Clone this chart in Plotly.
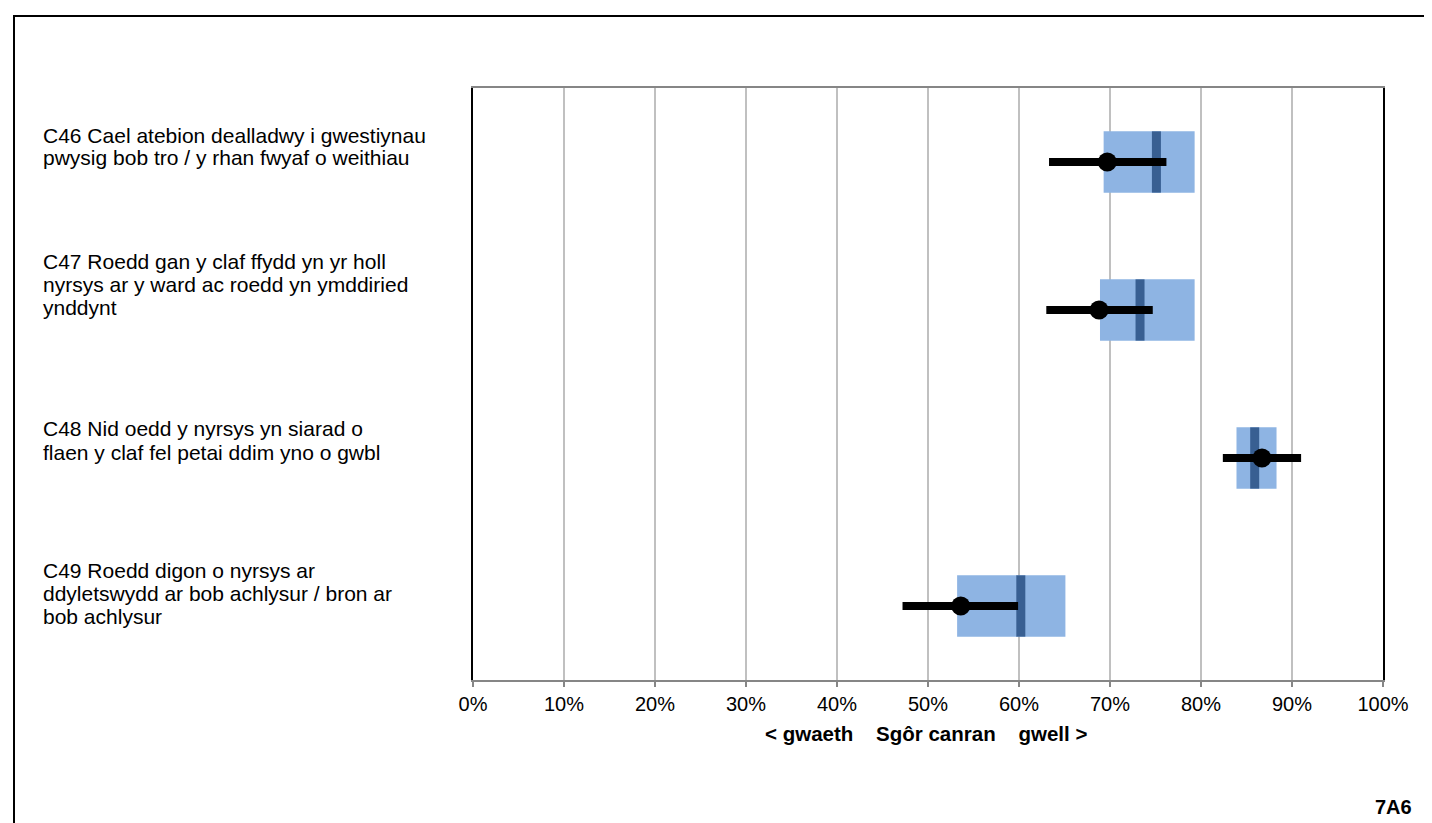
import plotly.graph_objects as go

# ---- data (percent scores) ----
categories = ["C46", "C47", "C48", "C49"]
label_lines = [
    ["C46 Cael atebion dealladwy i gwestiynau", "pwysig bob tro / y rhan fwyaf o weithiau"],
    ["C47 Roedd gan y claf ffydd yn yr holl", "nyrsys ar y ward ac roedd yn ymddiried", "ynddynt"],
    ["C48 Nid oedd y nyrsys yn siarad o", "flaen y claf fel petai ddim yno o gwbl"],
    ["C49 Roedd digon o nyrsys ar", "ddyletswydd ar bob achlysur / bron ar", "bob achlysur"],
]
range_low = [69.3, 68.9, 83.9, 53.2]
range_high = [79.3, 79.3, 88.3, 65.1]
national_mid = [75.1, 73.3, 85.9, 60.2]
ci_low = [63.3, 63.0, 82.4, 47.2]
ci_high = [76.2, 74.7, 91.0, 59.9]
score = [69.7, 68.8, 86.7, 53.6]
tick_vals = [0, 10, 20, 30, 40, 50, 60, 70, 80, 90, 100]
tick_text = ["0%", "10%", "20%", "30%", "40%", "50%", "60%", "70%", "80%", "90%", "100%"]

FONT = "Liberation Sans, Arial, sans-serif"
W, H = 1432, 823
L, R, T, B = 465, 57, 80, 151
PH = H - T - B
PW = W - L - R

ypos = list(range(len(categories)))

fig = go.Figure()

fig.add_trace(go.Bar(
    orientation="h", y=ypos,
    x=[h - l for l, h in zip(range_low, range_high)], base=range_low,
    width=0.415, marker=dict(color="#8EB4E3", line=dict(width=0)),
    hoverinfo="skip", showlegend=False,
))

fig.add_trace(go.Scatter(
    x=national_mid, y=ypos, mode="markers",
    marker=dict(symbol="line-ns", size=43.8, line=dict(width=9, color="#385F92")),
    hoverinfo="skip", showlegend=False,
))

cx, cy = [], []
for lo, hi, yy in zip(ci_low, ci_high, ypos):
    cx += [lo, hi, None]
    cy += [yy, yy, None]
fig.add_trace(go.Scatter(
    x=cx, y=cy, mode="lines", line=dict(color="black", width=8),
    hoverinfo="skip", showlegend=False,
))

fig.add_trace(go.Scatter(
    x=score, y=ypos, mode="markers",
    marker=dict(symbol="circle", size=19, color="black"),
    hoverinfo="skip", showlegend=False,
))

# category labels, one annotation per line (pixel positions)
line_centers = [[127, 150], [253, 276, 299], [420, 444], [562, 585, 608]]
for lines, centers in zip(label_lines, line_centers):
    for txt, py in zip(lines, centers):
        fig.add_annotation(
            x=(33 - L) / PW, y=(H - B - py) / PH, xref="paper", yref="paper",
            text=txt, showarrow=False, xanchor="left", yanchor="middle",
            font=dict(family=FONT, size=21, color="black"),
        )

fig.add_annotation(
    x=(918 - L) / PW, y=(H - B - 725) / PH, xref="paper", yref="paper",
    text="<b>&lt; gwaeth&nbsp;&nbsp;&nbsp;&nbsp;Sgôr canran&nbsp;&nbsp;&nbsp;&nbsp;gwell &gt;</b>",
    showarrow=False, xanchor="center", yanchor="middle",
    font=dict(family=FONT, size=20.5, color="black"),
)
fig.add_annotation(
    x=(1406 - L) / PW, y=(H - B - 799) / PH, xref="paper", yref="paper",
    text="<b>7A6</b>", showarrow=False, xanchor="right", yanchor="middle",
    font=dict(family=FONT, size=20, color="black"),
)

# outer frame
fig.add_shape(
    type="rect", xref="paper", yref="paper",
    x0=(6 - L) / PW, x1=(1424 - L) / PW, y0=(H - B - 830) / PH, y1=(H - B - 8) / PH,
    line=dict(color="black", width=2), fillcolor="rgba(0,0,0,0)", layer="above",
)

fig.update_layout(
    width=W, height=H,
    margin=dict(l=L, r=R, t=T, b=B, pad=0),
    paper_bgcolor="white", plot_bgcolor="white",
    barmode="overlay", showlegend=False,
    font=dict(family=FONT, color="black"),
    xaxis=dict(
        range=[0, 100], tickvals=tick_vals, ticktext=tick_text,
        showgrid=True, gridcolor="#C0C0C0", gridwidth=1.5,
        showline=True, linecolor="#868686", linewidth=2, mirror=True,
        ticks="outside", ticklen=5, tickcolor="#868686", tickwidth=1.5,
        tickfont=dict(family=FONT, size=20, color="black"),
        zeroline=False, fixedrange=True,
    ),
    yaxis=dict(
        range=[3.5, -0.5], showticklabels=False, showgrid=False, zeroline=False,
        showline=True, linecolor="black", linewidth=2, mirror=True,
        ticks="", fixedrange=True,
    ),
)

fig.write_html("out.html")
